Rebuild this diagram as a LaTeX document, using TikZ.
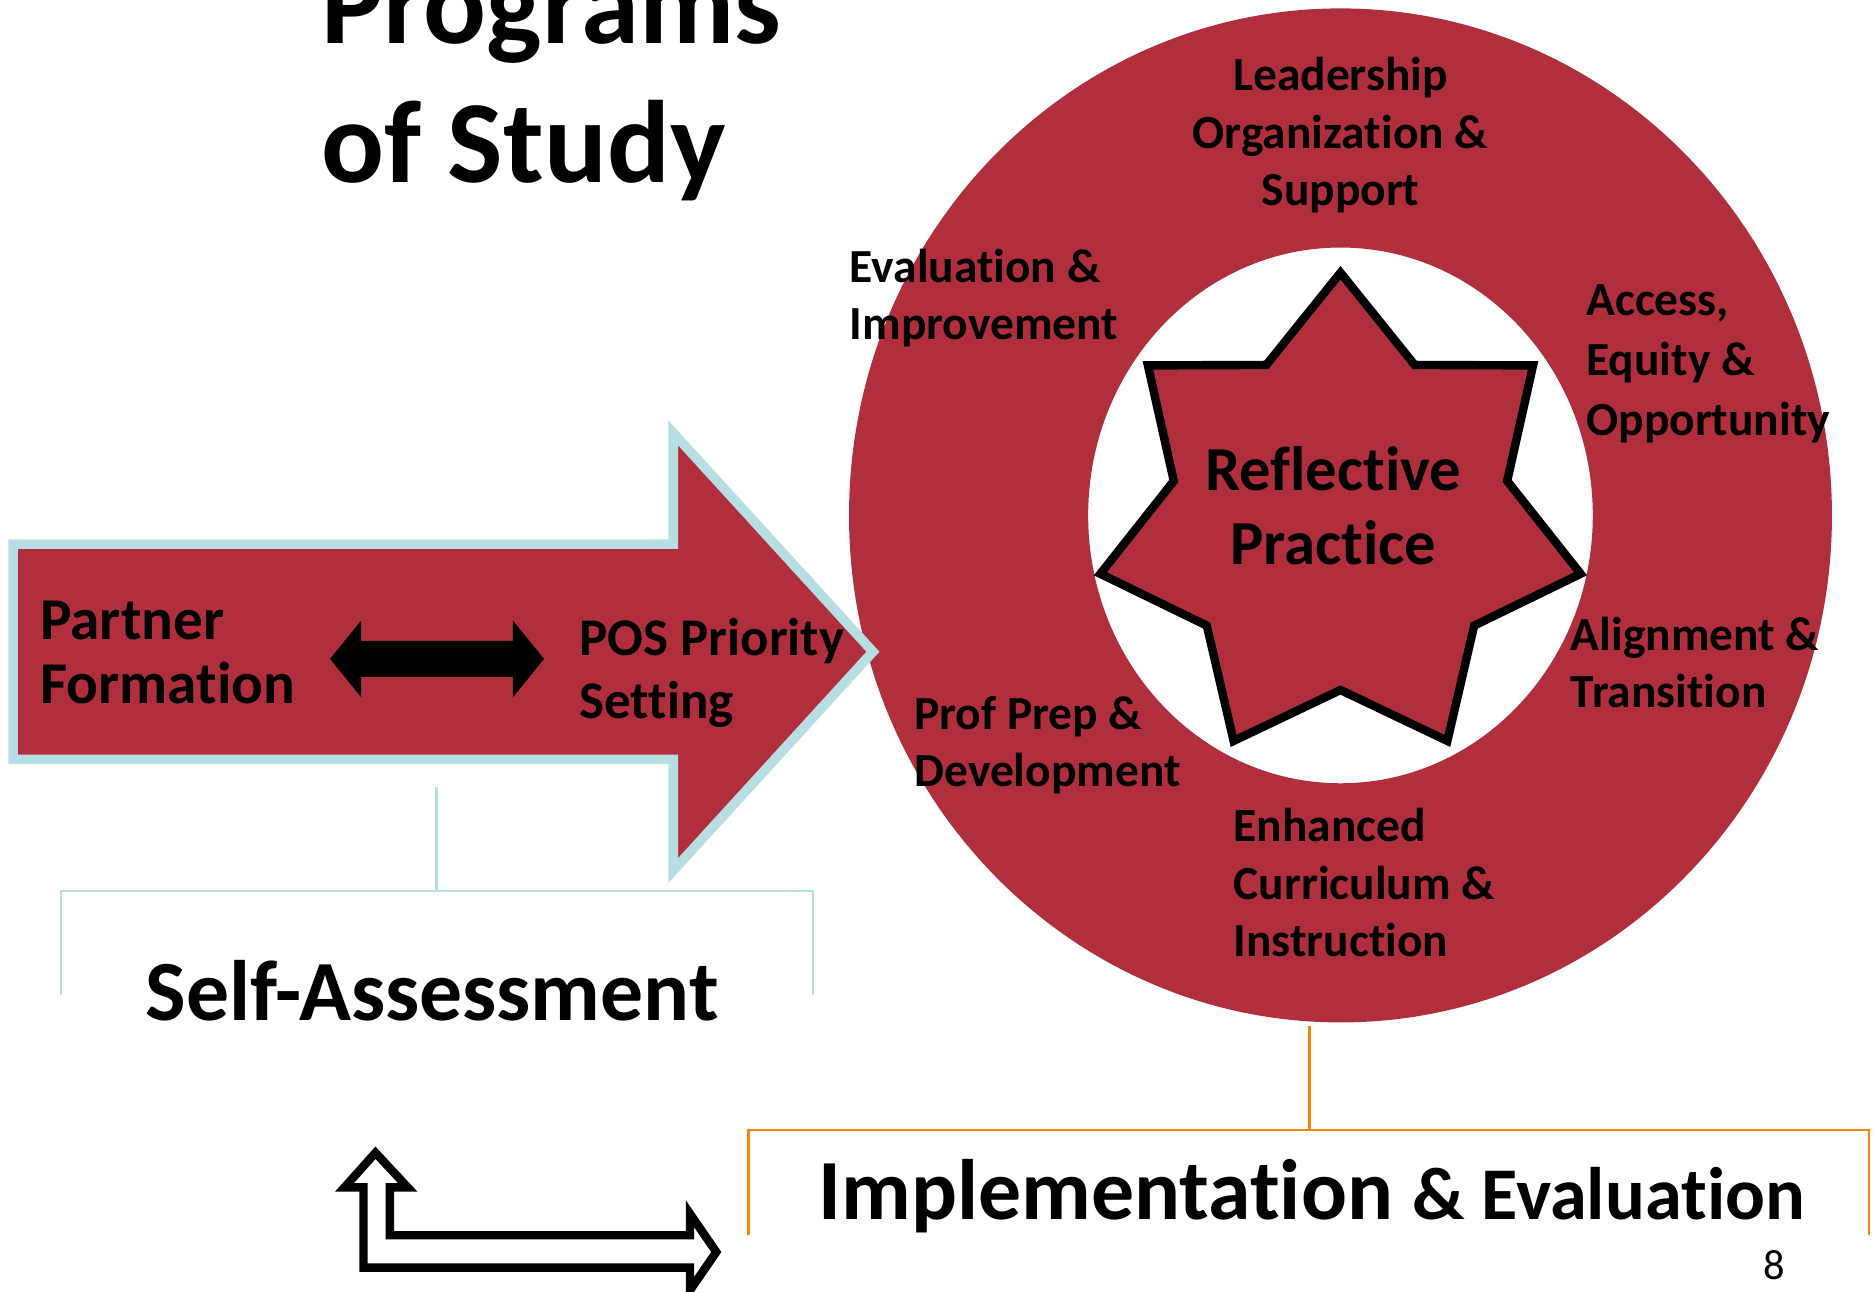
\documentclass[tikz,border=0pt]{standalone}
\usepackage{fontspec}
\setmainfont{Carlito}[Ligatures=NoCommon]
\usepackage{tikz}
\usetikzlibrary{calc}
\definecolor{posred}{RGB}{177,47,60}
\definecolor{posblue}{RGB}{183,223,227}
\definecolor{posorange}{RGB}{250,132,12}
\begin{document}
\begin{tikzpicture}[x=.1mm,y=-.1mm,line join=miter,
	lbl/.style={font=\bfseries\fontsize{11.3}{13.7}\selectfont,align=left,inner sep=0pt,anchor=base west},
	bigtxt/.style={font=\bfseries\fontsize{20.4}{24}\selectfont,inner sep=0pt,anchor=base west}]
	\useasboundingbox (0,0) rectangle (1568,1080);
	\node[font=\bfseries\fontsize{27.9}{33.3}\selectfont,align=left,inner sep=0pt,anchor=base west] (T) at (268,153) {Programs\\of Study};%tieu de
	\fill[posred,even odd rule] (1121,431) ellipse[x radius=411,y radius=424] (1121,431) ellipse[x radius=211,y radius=224];%vanh tron
	\draw[fill=posred,line width=2pt,shift={(1121,434)}] (-90:206) \foreach \k in {0,...,6}{ -- ({-90+\k*360/7+180/7}:143) -- ({-90+(\k+1)*360/7}:206)} -- cycle;%ngoi sao
	\node[font=\bfseries\fontsize{14.9}{17.6}\selectfont,align=center,inner sep=0pt,anchor=base] (R) at (1115,472) {Reflective\\Practice};
	\node[lbl,align=center,anchor=base] (L) at (1121,172) {Leadership\\Organization \&\\Support};
	\node[lbl] (E) at (710,284) {Evaluation \&\\Improvement};
	\node[lbl,font=\bfseries\fontsize{11.3}{14.2}\selectfont] (A) at (1326,364) {Access,\\Equity \&\\Opportunity};
	\node[lbl] (G) at (1313,592) {Alignment \&\\Transition};
	\node[lbl] (C) at (1031,800) {Enhanced\\Curriculum \&\\Instruction};
	\node[lbl] (P) at (764,658) {Prof Prep \&\\Development};
	%mui ten lon
	\draw[posblue,fill=posred,line width=2.3pt] (11,455) -- (563,455) -- (563,362) -- (730,545) -- (563,728) -- (563,635) -- (11,635) -- cycle;
	\node[lbl,font=\bfseries\fontsize{14.1}{15.1}\selectfont] (PF) at (33,588) {Partner\\Formation};
	\node[lbl,font=\bfseries\fontsize{12.6}{15.1}\selectfont] (PS) at (484,601) {POS Priority\\Setting};
	\path (276,551) coordinate (dL) (455,551) coordinate (dR);
	\fill (dL) -- ++(26,-32) -- ++(0,17) -- ($(dR)+(-26,-15)$) -- ++(0,-17) -- (dR) -- ++(-26,32) -- ++(0,-17) -- ($(dL)+(26,15)$) -- ++(0,17) -- cycle;%mui ten hai dau
	%tu danh gia
	\path (365,658) coordinate (S0) (51,745) coordinate (S1) (680,745) coordinate (S2);
	\draw[posblue,line width=.5pt] (S0) -- (S0 |- S1) (S1) ++(0,87) -- (S1) -- (S2) -- ++(0,87);
	\node[bigtxt] (SA) at (121,853) {Self-Assessment};
	%thuc hien
	\path (1095,858) coordinate (I0) (626,945) coordinate (I1) (1563,945) coordinate (I2);
	\draw[posorange,line width=.6pt] (I0) -- (I0 |- I1) (I1) ++(0,88) -- (I1) -- (I2) -- ++(0,88);
	\node[bigtxt] (IE) at (684,1020) {Implementation {\fontsize{17.7}{21}\selectfont\& Evaluation}};
	\node[font=\fontsize{10.1}{12}\selectfont,inner sep=0pt,anchor=base] (N8) at (1484,1070) {8};
	%mui ten gap
	\draw[fill=white,line width=2pt] (314,964) -- (341,993) -- (326,993) -- (326,1033) -- (577,1033) -- (577,1015) -- (599,1047) -- (577,1079) -- (577,1060) -- (304,1060) -- (304,993) -- (288,993) -- cycle;
\end{tikzpicture}
\end{document}
